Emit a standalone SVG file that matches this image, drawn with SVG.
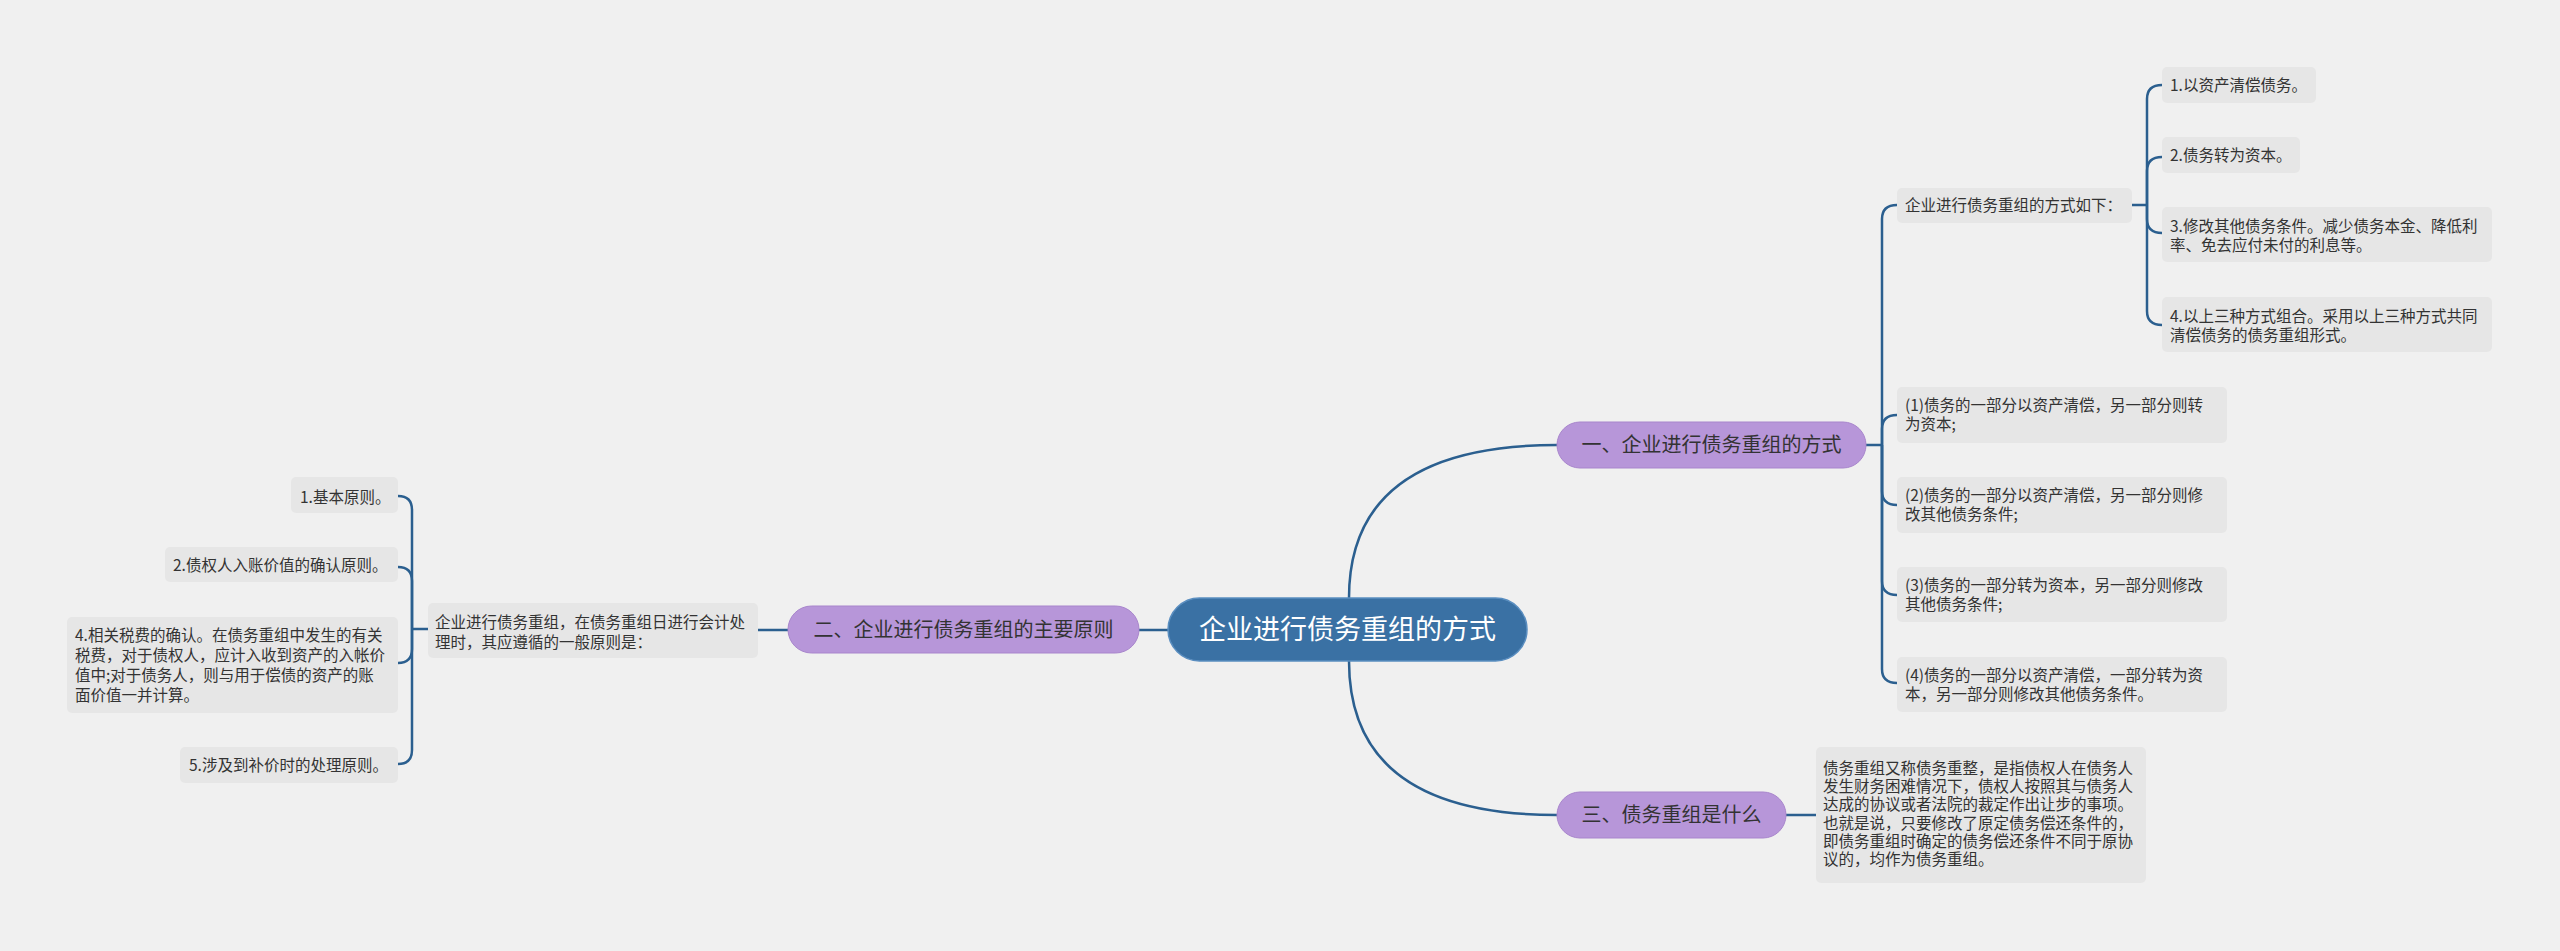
<svg xmlns="http://www.w3.org/2000/svg" width="2560" height="951" viewBox="0 0 2560 951">
<style>
text{font-family:"Noto Sans CJK SC","Noto Sans",sans-serif;fill:#333}
.leaf rect{fill:#e6e6e6}
.leaf text{font-size:15.5px}
.br rect{fill:#b796d9;stroke:#a885cc;stroke-width:1}
.br text{font-size:20px;text-anchor:middle;fill:#333}
.root rect{fill:#3a71a4;stroke:#5a8ec0;stroke-width:1.5}
.root text{font-size:27px;text-anchor:middle;fill:#fff}
#connectors path{fill:none;stroke:#2b5f8f;stroke-width:2.5}
</style>
<rect width="2560" height="951" fill="#f0f0f0"/>
<g id="connectors">
<path d="M1349,598 Q1349,445 1557,445"/>
<path d="M1349,661 Q1349,815 1557,815"/>
<path d="M1168,630 L1139,630"/>
<path d="M1786,815 L1816,815"/>
<path d="M788,630 L758,630"/>
<path d="M1866,445 L1882,445"/>
<path d="M1882,445 L1882,219 Q1882,205 1897,205"/>
<path d="M1882,445 L1882,429 Q1882,415 1897,415"/>
<path d="M1882,445 L1882,491 Q1882,505 1897,505"/>
<path d="M1882,445 L1882,581 Q1882,595 1897,595"/>
<path d="M1882,445 L1882,669 Q1882,683 1897,683"/>
<path d="M2132,205 L2147,205"/>
<path d="M2147,205 L2147,99 Q2147,85 2162,85"/>
<path d="M2147,205 L2147,171 Q2147,157 2162,157"/>
<path d="M2147,205 L2147,219 Q2147,233 2162,233"/>
<path d="M2147,205 L2147,311 Q2147,325 2162,325"/>
<path d="M428,629 L412,629"/>
<path d="M412,629 L412,510 Q412,496 398,496"/>
<path d="M412,629 L412,581 Q412,567 398,567"/>
<path d="M412,629 L412,649 Q412,663 398,663"/>
<path d="M412,629 L412,750 Q412,764 398,764"/>
</g>
<g id="root" class="root"><rect x="1168" y="598" width="359" height="63" rx="31.5"/><text x="1347.5" y="639">企业进行债务重组的方式</text></g>
<g id="branch1" class="br"><rect x="1557" y="422" width="309" height="46" rx="23"/><text x="1711.5" y="452">一、企业进行债务重组的方式</text></g>
<g id="branch2" class="br"><rect x="788" y="606" width="351" height="47" rx="23.5"/><text x="963.5" y="637">二、企业进行债务重组的主要原则</text></g>
<g id="branch3" class="br"><rect x="1557" y="792" width="229" height="46" rx="23"/><text x="1671.5" y="822">三、债务重组是什么</text></g>
<g id="s0" class="leaf"><rect x="1897" y="188" width="235" height="35" rx="5"/><text x="1905" y="211">企业进行债务重组的方式如下：</text></g>
<g id="a1" class="leaf"><rect x="2162" y="67" width="154" height="36" rx="5"/><text x="2170" y="91">1.以资产清偿债务。</text></g>
<g id="a2" class="leaf"><rect x="2162" y="137" width="138" height="36" rx="5"/><text x="2170" y="161">2.债务转为资本。</text></g>
<g id="a3" class="leaf"><rect x="2162" y="207" width="330" height="55" rx="5"/><text x="2170" y="231.5">3.修改其他债务条件。减少债务本金、降低利</text><text x="2170" y="250.5">率、免去应付未付的利息等。</text></g>
<g id="a4" class="leaf"><rect x="2162" y="297" width="330" height="55" rx="5"/><text x="2170" y="321.5">4.以上三种方式组合。采用以上三种方式共同</text><text x="2170" y="341">清偿债务的债务重组形式。</text></g>
<g id="b1" class="leaf"><rect x="1897" y="387" width="330" height="56" rx="5"/><text x="1905" y="410.5">(1)债务的一部分以资产清偿，另一部分则转</text><text x="1905" y="429.5">为资本;</text></g>
<g id="b2" class="leaf"><rect x="1897" y="477" width="330" height="56" rx="5"/><text x="1905" y="500.5">(2)债务的一部分以资产清偿，另一部分则修</text><text x="1905" y="519.5">改其他债务条件;</text></g>
<g id="b3" class="leaf"><rect x="1897" y="567" width="330" height="55" rx="5"/><text x="1905" y="590.5">(3)债务的一部分转为资本，另一部分则修改</text><text x="1905" y="609.5">其他债务条件;</text></g>
<g id="b4" class="leaf"><rect x="1897" y="657" width="330" height="55" rx="5"/><text x="1905" y="680.5">(4)债务的一部分以资产清偿，一部分转为资</text><text x="1905" y="699.5">本，另一部分则修改其他债务条件。</text></g>
<g id="c0" class="leaf"><rect x="1816" y="747" width="330" height="136" rx="5"/>
<text x="1823" y="773.8">债务重组又称债务重整，是指债权人在债务人</text>
<text x="1823" y="792.1">发生财务困难情况下，债权人按照其与债务人</text>
<text x="1823" y="810.4">达成的协议或者法院的裁定作出让步的事项。</text>
<text x="1823" y="828.7">也就是说，只要修改了原定债务偿还条件的，</text>
<text x="1823" y="847">即债务重组时确定的债务偿还条件不同于原协</text>
<text x="1823" y="865.3">议的，均作为债务重组。</text></g>
<g id="l0" class="leaf"><rect x="428" y="603" width="330" height="55" rx="5"/><text x="435" y="627.5">企业进行债务重组，在债务重组日进行会计处</text><text x="435" y="647.5">理时，其应遵循的一般原则是：</text></g>
<g id="d1" class="leaf"><rect x="291" y="477" width="107" height="36" rx="5"/><text x="300" y="502.5">1.基本原则。</text></g>
<g id="d2" class="leaf"><rect x="165" y="547" width="233" height="35" rx="5"/><text x="173" y="570.5">2.债权人入账价值的确认原则。</text></g>
<g id="d4" class="leaf"><rect x="67" y="617" width="331" height="96" rx="5"/><text x="75" y="640.5">4.相关税费的确认。在债务重组中发生的有关</text><text x="75" y="660.5">税费，对于债权人，应计入收到资产的入帐价</text><text x="75" y="680.5">值中;对于债务人，则与用于偿债的资产的账</text><text x="75" y="700.5">面价值一并计算。</text></g>
<g id="d5" class="leaf"><rect x="180" y="747" width="218" height="36" rx="5"/><text x="189" y="770.5">5.涉及到补价时的处理原则。</text></g>
</svg>
